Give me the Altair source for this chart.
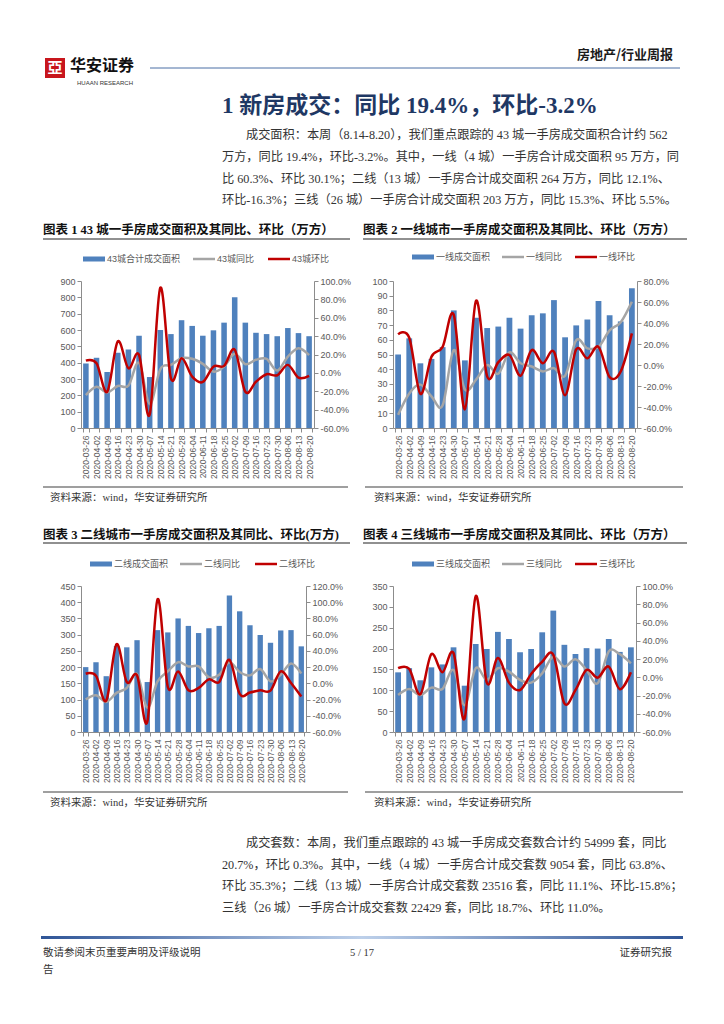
import altair as alt
import pandas as pd

dates = ["2020-03-26", "2020-04-02", "2020-04-09", "2020-04-16", "2020-04-23", "2020-04-30",
         "2020-05-07", "2020-05-14", "2020-05-21", "2020-05-28", "2020-06-04", "2020-06-11",
         "2020-06-18", "2020-06-25", "2020-07-02", "2020-07-09", "2020-07-16", "2020-07-23",
         "2020-07-30", "2020-08-06", "2020-08-13", "2020-08-20"]

# 43 cities
c43_area = [395, 430, 343, 460, 480, 565, 312, 600, 575, 660, 625, 565, 598, 645, 800, 645, 583, 575, 562, 612, 581, 562]
c43_yoy = [-24.2, -15.1, -21.3, -14.3, -13.9, 11.0, -34.0, 3.9, 8.7, 16.0, 15.3, 9.8, 1.4, 6.8, 20.7, 9.4, 14.2, 15.3, 2.5, 17.8, 26.9, 19.4]
c43_mom = [13.4, 10.5, -20.6, 34.2, 5.0, 19.6, -45.4, 92.7, -5.9, 16.0, -4.1, -9.9, 6.8, 7.6, 25.1, -20.6, -9.6, -1.5, -2.6, 8.7, -5.2, -3.2]

# tier 1
t1_area = [50, 61, 44, 47, 55, 80, 46, 75, 68, 69, 75, 67.6, 76.7, 78, 87, 61.7, 69.8, 73.8, 86.4, 76.7, 72.5, 95]
t1_yoy = [-47.5, -27.1, -18.7, -30.0, -38.4, 14.2, -23.3, -14.0, 0.0, -8.3, 12.0, 1.7, -1.4, -6.1, -3.0, -10.2, 23.6, 15.8, 17.3, 33.0, 40.8, 60.3]
t1_mom = [29.2, 26.0, -27.5, 8.0, 17.3, 47.7, -42.2, 61.2, -10.8, 2.6, 9.5, -10.2, 14.2, 1.7, 12.6, -28.7, 14.9, 6.4, 17.3, -11.5, -6.1, 30.1]

# tier 2
t2_area = [200, 215, 172, 265, 261, 283, 154, 314, 307, 350, 327, 305, 320, 327, 421, 372, 329, 299, 275, 313, 314, 264]
t2_yoy = [-20.0, -14.7, -22.9, -11.8, -5.7, 11.4, -30.0, 2.4, 14.7, 26.1, 20.8, 20.8, 7.3, 10.6, 26.1, 13.9, 9.8, 17.6, 2.4, 10.6, 24.5, 12.1]
t2_mom = [11.8, 9.4, -21.2, 48.2, 1.6, 9.8, -47.3, 103.7, -4.5, 14.7, -8.6, -5.7, 4.9, 1.6, 29.0, -13.1, -11.4, -8.6, -9.0, 14.7, 0.4, -16.3]

# tier 3
t3_area = [143, 153, 124, 155, 162, 203, 111, 211, 199, 240, 223, 191, 199, 239, 291, 209, 187, 201, 200, 223, 192, 203]
t3_yoy = [-19.5, -12.9, -19.5, -11.4, -12.9, 8.0, -30.6, 9.9, -3.0, 9.9, 6.2, -3.0, -5.9, 4.4, 22.8, 11.7, 19.8, 8.0, -6.6, 28.3, 25.3, 15.3]
t3_mom = [9.9, 9.2, -18.7, 25.3, 5.5, 26.4, -45.3, 89.0, -5.9, 21.0, -5.9, -14.0, 3.5, 17.0, 24.6, -28.7, -14.0, 8.0, -0.4, 11.7, -13.2, 5.5]

BLUE = "#4F81BD"
GRAY = "#A5A5A5"
RED = "#C00000"
AX = "#595959"
SANS = "'Liberation Sans', 'Noto Sans CJK SC', sans-serif"
SERIF = "'Liberation Serif', 'Noto Sans CJK SC', serif"
CJK = "'Noto Sans CJK SC', sans-serif"
DUMMY = alt.InlineData(values=[{"k": 0}])
MINUS = "\u2212"
NOVIEW = alt.ViewBackground(stroke="transparent", strokeWidth=0)


def panel(area, yoy, mom, ymax, ystep, pmax, w, h):
    df = pd.DataFrame({"date": dates, "area": area,
                       "yoy": [v / 100 for v in yoy], "mom": [v / 100 for v in mom]})
    x = alt.X("date:N", sort=dates, title=None,
              scale=alt.Scale(paddingInner=0.48, paddingOuter=0.2),
              axis=alt.Axis(labelAngle=270, labelFontSize=8.5, labelColor=AX, labelFont=SANS,
                            domainColor="#8C8C8C", tickColor="#8C8C8C", tickSize=4,
                            tickBand="extent", labelPadding=3))
    bars = alt.Chart(df).mark_bar(color=BLUE).encode(
        x=x,
        y=alt.Y("area:Q", title=None, scale=alt.Scale(domain=[0, ymax], nice=False),
                axis=alt.Axis(values=list(range(0, ymax + 1, ystep)), grid=False,
                              labelFontSize=9, labelColor=AX, labelFont=SANS,
                              domainColor="#8C8C8C", tickColor="#8C8C8C", tickSize=4,
                              labelPadding=2)))
    pvals = [round(-0.6 + 0.2 * i, 1) for i in range(int(round((pmax + 0.6) / 0.2)) + 1)]
    pscale = alt.Scale(domain=[-0.6, pmax], nice=False, zero=False)
    gray = alt.Chart(df).mark_line(color=GRAY, strokeWidth=2.5, interpolate="cardinal").encode(
        x=x, y=alt.Y("yoy:Q", scale=pscale, axis=None))
    red = alt.Chart(df).mark_line(color=RED, strokeWidth=2.5, interpolate="cardinal").encode(
        x=x,
        y=alt.Y("mom:Q", title=None, scale=pscale,
                axis=alt.Axis(orient="right", values=pvals, grid=False,
                              labelExpr="replace(format(datum.value, '.1%'), '" + MINUS + "', '-')",
                              labelFontSize=9, labelColor=AX, labelFont=SANS,
                              domainColor="#8C8C8C", tickColor="#8C8C8C", tickSize=4,
                              labelPadding=2)))
    return alt.layer(bars, gray, red).resolve_scale(y="independent").properties(
        width=w, height=h, view=NOVIEW)


def T(text, x, y, size=12, weight="normal", color="#222222", font=SERIF, align="left"):
    return alt.Chart(DUMMY).mark_text(text=text, fontSize=size, fontWeight=weight, color=color,
                                      font=font, align=align, baseline="middle").encode(
        x=alt.value(x), y=alt.value(y))


def R(x1, x2, y, color, width):
    return alt.Chart(DUMMY).mark_rule(color=color, strokeWidth=width).encode(
        x=alt.value(x1), x2=alt.value(x2), y=alt.value(y))


def B(x1, x2, y1, y2, color):
    return alt.Chart(DUMMY).mark_rect(color=color).encode(
        x=alt.value(x1), x2=alt.value(x2), y=alt.value(y1), y2=alt.value(y2))


def legend(x_blue, x_gray, x_red, y, names):
    return [
        B(x_blue, x_blue + 22, y - 2.5, y + 2.5, BLUE),
        T(names[0], x_blue + 24, y, 9, color=AX, font=SANS),
        R(x_gray, x_gray + 22, y, GRAY, 2.5),
        T(names[1], x_gray + 24, y, 9, color=AX, font=SANS),
        R(x_red, x_red + 22, y, RED, 2.5),
        T(names[2], x_red + 24, y, 9, color=AX, font=SANS),
    ]


def spacer(w, h):
    return alt.Chart(DUMMY).mark_text(text=" ", opacity=0).encode(
        x=alt.value(0), y=alt.value(0)).properties(width=w, height=h, view=NOVIEW)


para1 = [
    "成交面积：本周（8.14-8.20），我们重点跟踪的 43 城一手房成交面积合计约 562",
    "万方，同比 19.4%，环比-3.2%。其中，一线（4 城）一手房合计成交面积 95 万方，同",
    "比 60.3%、环比 30.1%；二线（13 城）一手房合计成交面积 264 万方，同比 12.1%、",
    "环比-16.3%；三线（26 城）一手房合计成交面积 203 万方，同比 15.3%、环比 5.5%。",
]
para2 = [
    "成交套数：本周，我们重点跟踪的 43 城一手房成交套数合计约 54999 套，同比",
    "20.7%，环比 0.3%。其中，一线（4 城）一手房合计成交套数 9054 套，同比 63.8%、",
    "环比 35.3%；二线（13 城）一手房合计成交套数 23516 套，同比 11.1%、环比-15.8%；",
    "三线（26 城）一手房合计成交套数 22429 套，同比 18.7%、环比 11.0%。",
]
titles = [
    "图表 1 43 城一手房成交面积及其同比、环比（万方）",
    "图表 2  一线城市一手房成交面积及其同比、环比（万方）",
    "图表 3  二线城市一手房成交面积及其同比、环比(万方)",
    "图表 4  三线城市一手房成交面积及其同比、环比（万方）",
]
source = "资料来源：wind，华安证券研究所"

layers = []
# header
layers.append(B(37, 57, 50, 70, "#C8161D"))
layers.append(T("亞", 47, 60, 15, "bold", "white", CJK, "center"))
layers.append(T("华安证券", 62, 58, 16, "bold", "#111111", CJK))
layers.append(T("HUAAN RESEARCH", 69, 75, 6, color="#333333", font=SANS))
layers.append(R(142, 672, 60, "#4A6FA5", 1))
layers.append(T("房地产/行业周报", 665, 47, 13, "bold", "#1a1a1a", CJK, "right"))
layers.append(T("1  新房成交：同比 19.4%，环比-3.2%", 214, 98, 23, "bold", "#1F3864", SERIF))
py = [127, 149, 171, 192]
for i, line in enumerate(para1):
    layers.append(T(line, 214 + (24 if i == 0 else 0), py[i], 12.2, color="#333333"))
# chart titles row 1
layers.append(T(titles[0], 35, 222, 12.5, "bold", "#111111"))
layers.append(T(titles[1], 355, 222, 12.5, "bold", "#111111"))
layers.append(R(35, 342, 231, "#222222", 1.2))
layers.append(R(355, 679, 231, "#222222", 1.2))
layers += legend(75, 185, 260, 251, ["43城合计成交面积", "43城同比", "43城环比"])
layers += legend(404, 494, 567, 249, ["一线成交面积", "一线同比", "一线环比"])
layers.append(R(35, 340, 479, "#7F7F7F", 1.5))
layers.append(R(357, 675, 479, "#7F7F7F", 1.5))
layers.append(T(source, 42, 490, 10.5, color="#333333"))
layers.append(T(source, 366, 490, 10.5, color="#333333"))
# chart titles row 2
layers.append(T(titles[2], 35, 527, 12.5, "bold", "#111111"))
layers.append(T(titles[3], 355, 527, 12.5, "bold", "#111111"))
layers.append(R(35, 342, 535, "#222222", 1.2))
layers.append(R(355, 679, 535, "#222222", 1.2))
layers += legend(82, 172, 247, 556, ["二线成交面积", "二线同比", "二线环比"])
layers += legend(404, 494, 567, 556, ["三线成交面积", "三线同比", "三线环比"])
layers.append(R(35, 340, 784, "#7F7F7F", 1.5))
layers.append(R(357, 675, 784, "#7F7F7F", 1.5))
layers.append(T(source, 42, 795, 10.5, color="#333333"))
layers.append(T(source, 366, 795, 10.5, color="#333333"))
# second paragraph
py2 = [835, 857, 878, 900]
for i, line in enumerate(para2):
    layers.append(T(line, 214 + (24 if i == 0 else 0), py2[i], 12.2, color="#333333"))
# footer
grad = alt.Gradient(gradient="linear", x1=0, x2=1, y1=0, y2=0,
                    stops=[alt.GradientStop(offset=0, color="#2F5597"),
                           alt.GradientStop(offset=0.5, color="#BDD0EA"),
                           alt.GradientStop(offset=1, color="#2F5597")])
layers.append(alt.Chart(DUMMY).mark_rect(fill=grad).encode(
    x=alt.value(33), x2=alt.value(675), y=alt.value(928), y2=alt.value(931)))
layers.append(T("敬请参阅末页重要声明及评级说明", 35, 945, 10.5, color="#333333"))
layers.append(T("告", 35, 962, 10.5, color="#333333"))
layers.append(T("5 / 17", 354, 945, 10.5, color="#333333", align="center"))
layers.append(T("证券研究报", 664, 945, 10.5, color="#333333", align="right"))

overlay = alt.layer(*layers).properties(width=708, height=273, view=NOVIEW)

c1 = panel(c43_area, c43_yoy, c43_mom, 900, 100, 1.0, 233, 147)
c2 = panel(t1_area, t1_yoy, t1_mom, 100, 10, 0.8, 244, 147)
c3 = panel(t2_area, t2_yoy, t2_mom, 450, 50, 1.2, 225, 146)
c4 = panel(t3_area, t3_yoy, t3_mom, 350, 50, 1.0, 243, 146)

row1 = alt.hconcat(spacer(73, 147), c1, spacer(79, 147), c2, spacing=0, bounds="flush")
row2 = alt.hconcat(spacer(73, 146), c3, spacer(87, 146), c4, spacing=0, bounds="flush")

# nested rows count as zero height in the flush layout, so the gap cell spans row 1 too
chart = alt.vconcat(overlay, row1, spacer(708, 305), row2, spacing=0, bounds="flush",
                    padding=0).configure_view(stroke="transparent", strokeWidth=0).configure(
    background="white")

chart.save("out.html", embed_options={"renderer": "svg", "actions": False})
